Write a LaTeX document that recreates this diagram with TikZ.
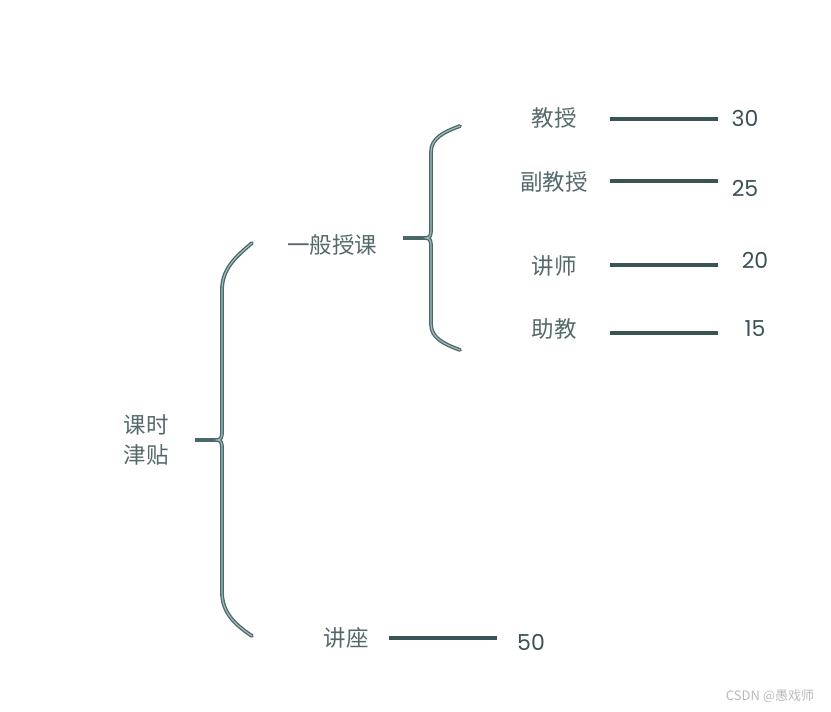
\documentclass[tikz,border=0pt]{standalone}
\usepackage{fontspec}
\setmainfont{Poppins}
\newfontfamily\cjk{Noto Sans CJK SC}
\usetikzlibrary{positioning}
\definecolor{textgray}{HTML}{55696B}
\definecolor{numgray}{HTML}{3A5253}
\definecolor{linedark}{HTML}{3A5455}
\definecolor{bracedark}{HTML}{4A6869}
\definecolor{bracelight}{HTML}{A3B8B9}

\begin{document}
\begin{tikzpicture}[
  x=1pt, y=-1pt,
  every node/.style={inner sep=0pt},
  lbl/.style={text=textgray,font=\cjk\fontsize{22.5}{26}\selectfont},
  num/.style={text=numgray,font=\fontsize{22}{26}\selectfont},
  valline/.style={draw=linedark,line width=3.2pt},
  stub/.style={draw=bracedark,line width=4.4pt},
  bracestyle/.style={draw=bracedark,line width=3.8pt,line cap=round,
    postaction={draw=bracelight,line width=1.2pt}}
]
  \useasboundingbox (0,0) rectangle (831,712);

  \node[lbl,align=center] (kshi) at (146,440) {课时\\[4pt]津贴};
  \node[lbl] (ybsk) at (332,245) {一般授课};
  \node[lbl] (jz)   at (346,638) {讲座};

  \node[lbl] (js)  at (554,118) {教授};
  \node[lbl] (fjs) at (554,182) {副教授};
  \node[lbl] (jsh) at (554,266) {讲师};
  \node[lbl] (zj)  at (554,329) {助教};

  \node[num] (n30) at (745,118) {30};
  \node[num] (n25) at (745,188) {25};
  \node[num] (n20) at (755,260) {20};
  \node[num] (n15) at (755,329) {15};
  \node[num] (n50) at (531,642) {50};

  % big brace
  \coordinate (bigtip) at (195,440);
  \coordinate (bigmid) at (217,440);
  \coordinate (bigtop) at (252,243);
  \coordinate (bigbot) at (252,636);
  \draw[stub] (bigtip) -- (bigmid);
  \draw[bracestyle] (bigtop) .. controls (234,258) and (222,270) .. (222,290)
    -- (222,432) .. controls (222,437) and (221,440) .. (bigmid)
    .. controls (221,440) and (222,443) .. (222,448)
    -- (222,592) .. controls (222,612) and (234,624) .. (bigbot);

  % small brace
  \coordinate (smtip) at (403,238);
  \coordinate (smmid) at (426,238);
  \coordinate (smtop) at (460,126);
  \coordinate (smbot) at (460,350);
  \draw[stub] (smtip) -- (smmid);
  \draw[bracestyle] (smtop) .. controls (444,132) and (431,138) .. (431,152)
    -- (431,230) .. controls (431,235) and (430,238) .. (smmid)
    .. controls (430,238) and (431,241) .. (431,246)
    -- (431,324) .. controls (431,338) and (444,344) .. (smbot);

  % value lines
  \coordinate (a1) at (610,119); \coordinate (b1) at (718,119);
  \coordinate (a2) at (610,181); \coordinate (b2) at (718,181);
  \coordinate (a3) at (610,265); \coordinate (b3) at (718,265);
  \coordinate (a4) at (610,333); \coordinate (b4) at (718,333);
  \coordinate (a5) at (389,638); \coordinate (b5) at (497,638);
  \draw[valline] (a1) -- (b1);
  \draw[valline] (a2) -- (b2);
  \draw[valline] (a3) -- (b3);
  \draw[valline] (a4) -- (b4);
  \draw[valline] (a5) -- (b5);

  \node[text=gray!55,font=\cjk\fontsize{13}{15}\selectfont] (wm) at (770,696) {CSDN @愚戏师};
\end{tikzpicture}
\end{document}
